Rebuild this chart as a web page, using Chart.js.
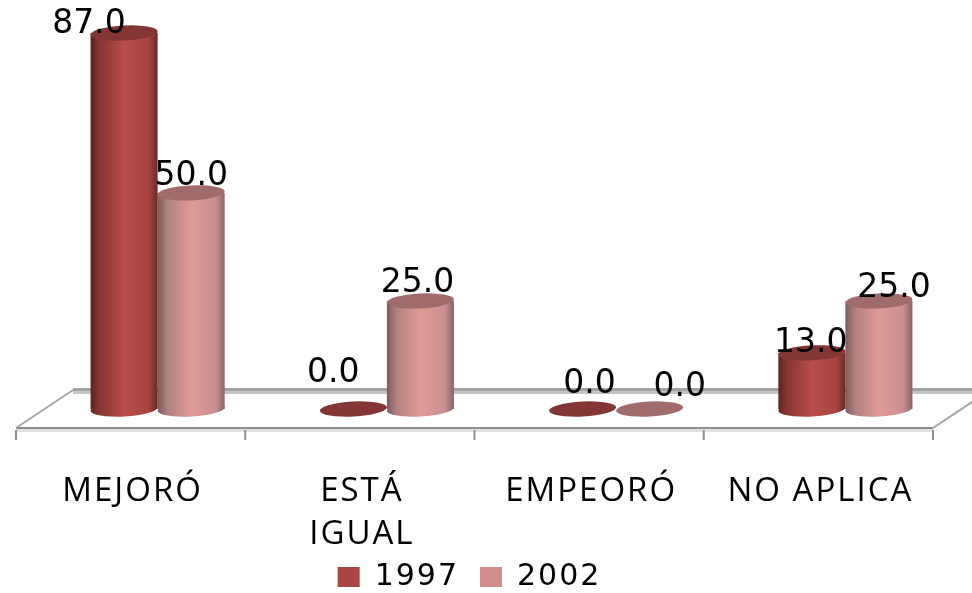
<!DOCTYPE html>
<html>
<head>
<meta charset="utf-8">
<style>
  html, body { margin: 0; background: #fff; }
  canvas { display: block; }
</style>
<script src="https://cdn.jsdelivr.net/npm/chart.js@4"></script>
</head>
<body>
<canvas id="myChart" width="972" height="593"></canvas>
<script>
var categories = ['MEJORÓ', ['ESTÁ', 'IGUAL'], 'EMPEORÓ', 'NO APLICA'];
var seriesNames = ['1997', '2002'];
var values1997 = [87, 0, 0, 13];
var values2002 = [50, 25, 0, 25];

// colours for the cylinders: edge, shade, middle, shade, edge
var stops1997 = ['#5d2322', '#8a3634', '#b64d4a', '#a84441', '#6b2a28'];
var stops2002 = ['#7f5a5a', '#b08080', '#de9a98', '#c99090', '#8d6464'];
var capColors = ['#843535', '#a06b6b'];
var legendColors = ['#a94543', '#d08e8d'];

// the value labels do not sit centred on their bars in the original
var labelShift1997 = [[-35, 9], [-20, -18], [7, -7], [-1, 8]];
var labelShift2002 = [[0, 1], [-3, 0], [30, -4], [15, 5]];

var catPct = 0.585;

function cylinderFill(stops, dsIndex) {
  return function (c) {
    var x = c.chart.scales.x;
    if (!x || c.dataIndex === undefined) return stops[2];
    var slot = x.width / categories.length;
    var w = slot * catPct / 2;
    var left = x.getPixelForValue(c.dataIndex) - w + dsIndex * w;
    var g = c.chart.ctx.createLinearGradient(left, 0, left + w, 0);
    g.addColorStop(0, stops[0]);
    g.addColorStop(0.14, stops[1]);
    g.addColorStop(0.5, stops[2]);
    g.addColorStop(0.86, stops[3]);
    g.addColorStop(1, stops[4]);
    return g;
  };
}

function ellipse(ctx, x, y, rx, fill) {
  ctx.save();
  ctx.fillStyle = fill;
  ctx.beginPath();
  ctx.ellipse(x, y, rx, 7.5, -0.05, 0, Math.PI * 2);
  ctx.fill();
  ctx.restore();
}

var floor3d = {
  id: 'floor3d',
  afterLayout: function (chart) {
    // legend sits left of the plot centre and overlaps the label band
    chart.legend.left -= 40;
    chart.legend.right -= 40;
    chart.legend.top -= 10;
    chart.legend.bottom -= 10;
  },
  beforeDraw: function (chart) {
    chart.ctx.letterSpacing = '2px';
  },
  beforeDatasetsDraw: function (chart) {
    var ctx = chart.ctx, x = chart.scales.x, y = chart.scales.y;
    ctx.letterSpacing = '0px';
    var base = y.getPixelForValue(0);
    var slot = x.width / categories.length;
    var front = base + 19, back = base - 19;
    var left = x.left - 27, right = left + slot * categories.length;

    ctx.save();
    // back edge
    ctx.fillStyle = '#c4c4c4';
    ctx.fillRect(left + 57, back + 1, 972 - left - 57, 3);
    ctx.fillStyle = '#a2a2a2';
    ctx.fillRect(left + 57, back - 2, 972 - left - 57, 3);
    // front edge
    ctx.fillStyle = '#e2e2e2';
    ctx.fillRect(left, front + 1, right - left, 3);
    ctx.fillStyle = '#8f8f8f';
    ctx.fillRect(left, front - 1, right - left, 2);
    // sides
    ctx.strokeStyle = '#a6a6a6';
    ctx.lineWidth = 2;
    ctx.beginPath();
    ctx.moveTo(left, front);
    ctx.lineTo(left + 57, back);
    ctx.moveTo(right, front);
    ctx.lineTo(right + 57, back);
    ctx.stroke();
    // ticks
    ctx.fillStyle = '#8f8f8f';
    for (var i = 0; i <= categories.length; i++) {
      ctx.fillRect(left + i * slot - 1, front + 2, 2, 10);
    }
    ctx.restore();
  },
  beforeDatasetDraw: function (chart, args) {
    args.meta.data.forEach(function (el) {
      if (el.base - el.y > 0.5) {
        ellipse(chart.ctx, el.x, el.base, el.width / 2, el.options.backgroundColor);
      }
    });
  },
  afterDatasetDraw: function (chart, args) {
    args.meta.data.forEach(function (el) {
      ellipse(chart.ctx, el.x, el.y, el.width / 2, capColors[args.index]);
    });
  },
  afterDatasetsDraw: function (chart) {
    var ctx = chart.ctx;
    var shifts = [labelShift1997, labelShift2002];
    ctx.save();
    ctx.font = '33px "DejaVu Sans"';
    ctx.fillStyle = '#000';
    ctx.textAlign = 'center';
    ctx.textBaseline = 'alphabetic';
    chart.data.datasets.forEach(function (ds, d) {
      chart.getDatasetMeta(d).data.forEach(function (el, i) {
        var s = shifts[d][i];
        ctx.fillText(ds.data[i].toFixed(1), el.x + s[0], el.y - 9 + s[1]);
      });
    });
    ctx.restore();
  }
};

var ctx = document.getElementById('myChart').getContext('2d');

var myChart = new Chart(ctx, {
  type: 'bar',
  data: {
    labels: categories,
    datasets: [
      { label: seriesNames[0], data: values1997, backgroundColor: cylinderFill(stops1997, 0) },
      { label: seriesNames[1], data: values2002, backgroundColor: cylinderFill(stops2002, 1) }
    ]
  },
  options: {
    responsive: false,
    animation: false,
    layout: { padding: { left: 43, right: 12, top: 20, bottom: -19 } },
    categoryPercentage: catPct,
    barPercentage: 1,
    plugins: {
      tooltip: { enabled: false },
      legend: {
        position: 'bottom',
        labels: {
          color: '#000',
          font: { family: '"DejaVu Sans"', size: 30 },
          boxWidth: 22,
          boxHeight: 20,
          padding: 21,
          generateLabels: function () {
            return seriesNames.map(function (n, i) {
              return { text: n, fillStyle: legendColors[i], strokeStyle: legendColors[i], lineWidth: 0, datasetIndex: i };
            });
          }
        }
      }
    },
    scales: {
      x: {
        afterFit: function (s) {
          s.height = 142;
          s.paddingLeft = 0;
          s.paddingRight = 0;
        },
        grid: { display: false },
        border: { display: false },
        ticks: {
          color: '#000',
          font: { family: '"Open Sans"', size: 33, lineHeight: 1.3 },
          labelOffset: -25,
          padding: 53,
          maxRotation: 0,
          autoSkip: false
        }
      },
      y: {
        display: false,
        min: 0,
        max: 90
      }
    }
  },
  plugins: [floor3d]
});
</script>
</body>
</html>
